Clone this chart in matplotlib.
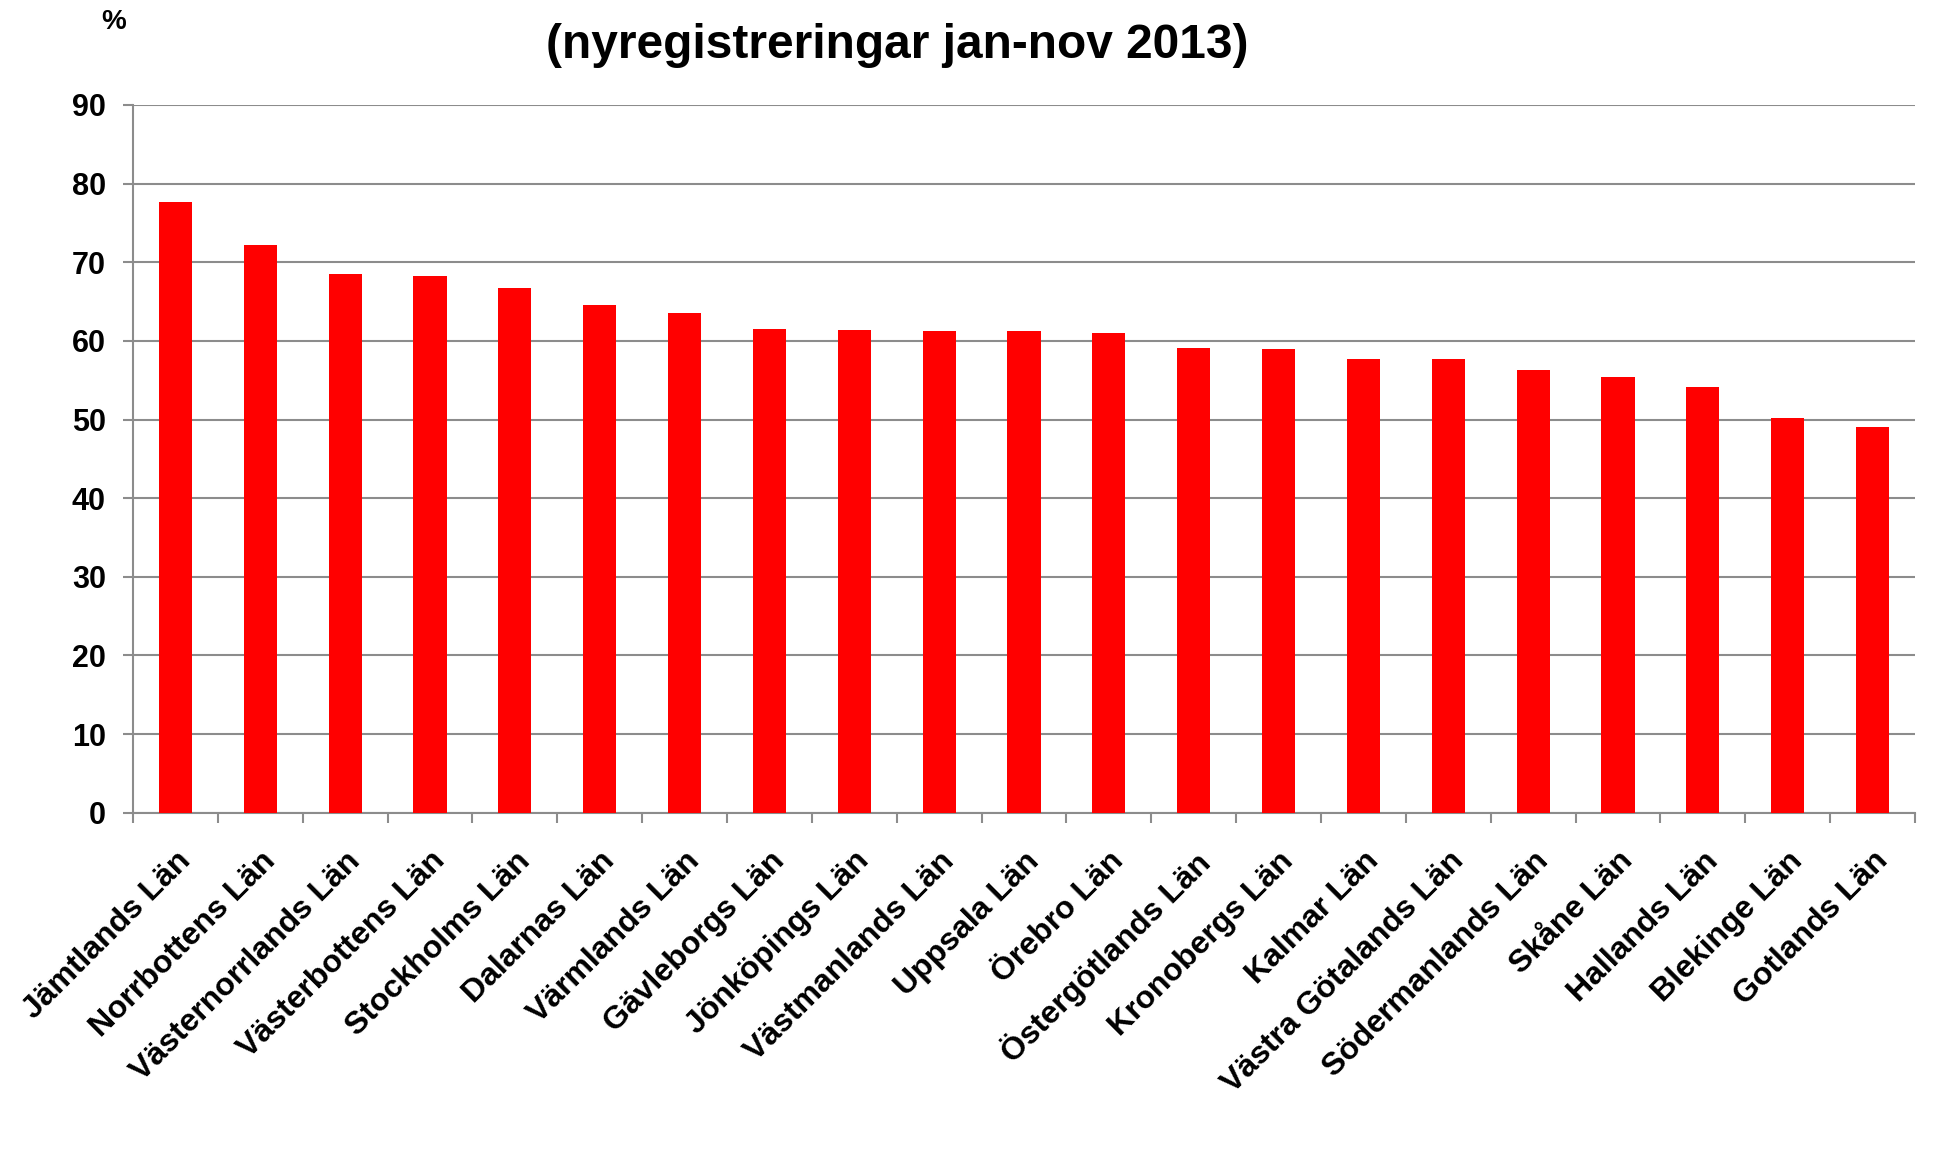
import matplotlib
matplotlib.use("Agg")
import matplotlib.pyplot as plt
import matplotlib.transforms as mtransforms
import numpy as np

plt.rcParams['font.family'] = ['Liberation Sans', 'DejaVu Sans']
plt.rcParams['font.weight'] = 'bold'

lan = ["Jämtlands Län", "Norrbottens Län", "Västernorrlands Län", "Västerbottens Län",
       "Stockholms Län", "Dalarnas Län", "Värmlands Län", "Gävleborgs Län",
       "Jönköpings Län", "Västmanlands Län", "Uppsala Län", "Örebro Län",
       "Östergötlands Län", "Kronobergs Län", "Kalmar Län", "Västra Götalands Län",
       "Södermanlands Län", "Skåne Län", "Hallands Län", "Blekinge Län", "Gotlands Län"]
andel = [77.6, 72.2, 68.5, 68.3, 66.7, 64.6, 63.6, 61.5, 61.4, 61.2, 61.2,
         61.0, 59.1, 59.0, 57.7, 57.7, 56.3, 55.4, 54.1, 50.2, 49.0]
yticks = list(range(0, 91, 10))

grid_col = '#8c8c8c'

fig = plt.figure(figsize=(19.42, 11.65), dpi=100)
ax = fig.add_axes([0.0685, 0.3024, 0.9176, 0.6075])

x = np.arange(len(lan))
ax.bar(x, andel, width=0.39, color='#ff0000', zorder=3)

ax.set_xlim(-0.5, len(lan) - 0.5)
ax.set_ylim(0, 90)
ax.set_yticks(yticks)
ax.set_yticklabels([str(v) for v in yticks], fontsize=22, fontweight='bold')
ax.yaxis.grid(True, color=grid_col, linewidth=1.5, zorder=0)
ax.set_axisbelow(True)

ax.set_xticks(x)
ax.set_xticklabels(lan, rotation=45, ha='right', va='top', rotation_mode='anchor',
                   fontsize=23, fontweight='bold')
# shift the labels a little to the left
shift = mtransforms.ScaledTranslation(-6 / 100, 2 / 100, fig.dpi_scale_trans)
for lbl in ax.get_xticklabels():
    lbl.set_transform(lbl.get_transform() + shift)
ax.set_xticks(np.arange(-0.5, len(lan) + 0.5, 1), minor=True)
ax.tick_params(axis='x', which='major', length=0, pad=24)
ax.tick_params(axis='x', which='minor', length=7.5, width=1.5, color=grid_col)
ax.tick_params(axis='y', length=7.5, width=1.5, color=grid_col, pad=12)

for s in ['top', 'right']:
    ax.spines[s].set_visible(False)
for s in ['left', 'bottom']:
    ax.spines[s].set_color(grid_col)
    ax.spines[s].set_linewidth(1.5)

fig.text(0.462, 0.950, "(nyregistreringar jan-nov 2013)", ha='center', va='baseline',
         fontsize=34.5, fontweight='bold')
fig.text(0.0587, 0.981, "%", ha='center', va='center', fontsize=20, fontweight='bold')

fig.savefig("out.png", dpi=100)
